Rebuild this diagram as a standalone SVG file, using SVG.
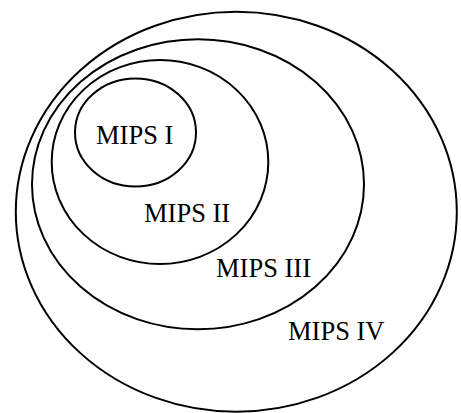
<svg xmlns="http://www.w3.org/2000/svg" width="461" height="413" viewBox="0 0 461 413">
<style>
.set{fill:none;stroke:#000;stroke-width:2}
.lbl{font-family:"Liberation Serif","Times New Roman",serif;font-size:26.5px;fill:#000}
</style>
<rect width="461" height="413" fill="#fff"/>
<g id="mips4"><ellipse class="set" cx="236.3" cy="211.7" rx="220.5" ry="200"/><text class="lbl" x="288" y="340">MIPS IV</text></g>
<g id="mips3"><ellipse class="set" cx="198" cy="184.3" rx="166" ry="145"/><text class="lbl" x="216" y="277">MIPS III</text></g>
<g id="mips2"><ellipse class="set" cx="160" cy="162" rx="108.3" ry="102"/><text class="lbl" x="144" y="221.5">MIPS II</text></g>
<g id="mips1"><ellipse class="set" cx="135.5" cy="132.5" rx="60.5" ry="54"/><text class="lbl" x="96" y="143.5">MIPS I</text></g>
</svg>
